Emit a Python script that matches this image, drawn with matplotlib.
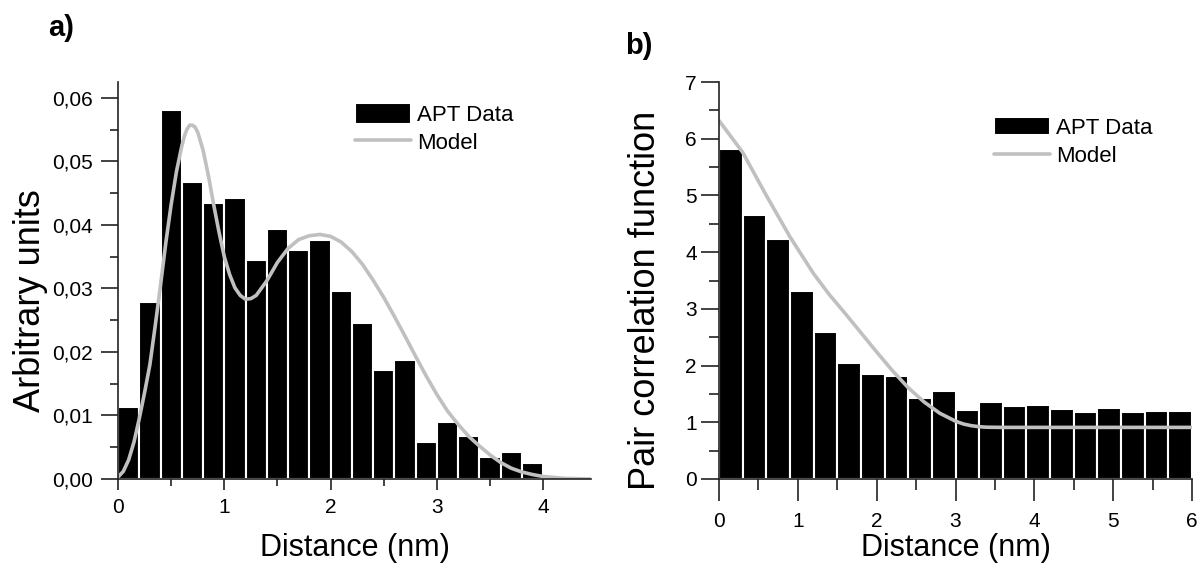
import matplotlib
matplotlib.use('Agg')
import matplotlib.pyplot as plt
from matplotlib.ticker import MultipleLocator, FuncFormatter

plt.rcParams['font.family'] = ['Liberation Sans', 'DejaVu Sans']

# ---- panel a) data
a_bins = [0.0, 0.2, 0.4, 0.6, 0.8, 1.0, 1.2, 1.4, 1.6, 1.8,
          2.0, 2.2, 2.4, 2.6, 2.8, 3.0, 3.2, 3.4, 3.6, 3.8]
a_counts = [0.0114, 0.0279, 0.0581, 0.0467, 0.0435, 0.0443, 0.0344, 0.0393, 0.0361, 0.0377,
            0.0296, 0.0245, 0.0172, 0.0187, 0.0058, 0.0089, 0.0067, 0.0034, 0.0042, 0.0025]
a_model_x = [0.0, 0.05, 0.1, 0.15, 0.2, 0.25, 0.3, 0.35, 0.4, 0.45, 0.5, 0.55, 0.6, 0.625,
             0.65, 0.675, 0.7, 0.725, 0.75, 0.8, 0.85, 0.9, 0.95, 1.0, 1.05, 1.1, 1.15,
             1.2, 1.25, 1.3, 1.4, 1.5, 1.6, 1.7, 1.8, 1.9, 2.0, 2.1, 2.2, 2.3, 2.4,
             2.5, 2.6, 2.7, 2.8, 2.9, 3.0, 3.1, 3.2, 3.3, 3.4, 3.5, 3.6, 3.7, 3.8,
             3.9, 4.0, 4.2, 4.45]
a_model_y = [0.0003, 0.0012, 0.003, 0.0058, 0.0095, 0.0136, 0.018, 0.0241, 0.0305, 0.0372,
             0.0432, 0.0484, 0.0524, 0.0540, 0.0551, 0.0557, 0.0557, 0.0554, 0.0546, 0.0518,
             0.0478, 0.0432, 0.0389, 0.0350, 0.0322, 0.0301, 0.0289, 0.0283, 0.0284, 0.0289,
             0.0312, 0.0341, 0.0363, 0.0377, 0.0383, 0.0385, 0.0382, 0.0373, 0.0358, 0.0338,
             0.0313, 0.0286, 0.0256, 0.0225, 0.0193, 0.0162, 0.0133, 0.0107, 0.0086, 0.0067,
             0.0052, 0.0038, 0.0026, 0.0017, 0.0011, 0.0007, 0.0004, 0.0001, 0.0]

# ---- panel b) data
b_bins = [0.0, 0.3, 0.6, 0.9, 1.2, 1.5, 1.8, 2.1, 2.4, 2.7,
          3.0, 3.3, 3.6, 3.9, 4.2, 4.5, 4.8, 5.1, 5.4, 5.7]
b_counts = [5.81, 4.66, 4.24, 3.31, 2.59, 2.05, 1.85, 1.81, 1.43, 1.56,
            1.21, 1.36, 1.29, 1.31, 1.23, 1.19, 1.26, 1.19, 1.2, 1.2]
b_model_x = [0.0, 0.3, 0.6, 0.9, 1.2, 1.4, 1.6, 1.8, 2.0, 2.2, 2.4, 2.6, 2.8,
             3.0, 3.1, 3.2, 3.3, 3.4, 3.6, 6.0]
b_model_y = [6.32, 5.76, 5.0, 4.27, 3.62, 3.25, 2.92, 2.58, 2.24, 1.91, 1.61, 1.36, 1.16,
             1.02, 0.97, 0.94, 0.922, 0.913, 0.91, 0.91]

gray = '#c0c0c0'
W, H = 1204, 564

fig = plt.figure(figsize=(12.04, 5.64), dpi=100)
ax1 = fig.add_axes([118 / W, (H - 479) / H, 473 / W, 397 / H])
ax2 = fig.add_axes([719 / W, (H - 479) / H, 473 / W, 397 / H])


def style(ax):
    for s in ['top', 'right']:
        ax.spines[s].set_visible(False)
    for s in ['left', 'bottom']:
        ax.spines[s].set_linewidth(1.2)
        ax.spines[s].set_color('#222222')
    ax.tick_params(which='both', direction='out', color='#222222', width=1.2, labelsize=15)


# panel a
bars1 = ax1.bar(a_bins, a_counts, width=0.2, align='edge', color='black',
                edgecolor='white', linewidth=1.5)
line1, = ax1.plot(a_model_x, a_model_y, color=gray, lw=2.6,
                  solid_joinstyle='round', solid_capstyle='round')
ax1.set_xlim(0, 4.45)
ax1.set_ylim(0, 0.0625)
ax1.xaxis.set_major_locator(MultipleLocator(1))
ax1.xaxis.set_minor_locator(MultipleLocator(0.5))
ax1.yaxis.set_major_locator(MultipleLocator(0.01))
ax1.yaxis.set_minor_locator(MultipleLocator(0.005))
ax1.yaxis.set_major_formatter(FuncFormatter(lambda v, p: f'{v:.2f}'.replace('.', ',')))
style(ax1)
ax1.tick_params(axis='y', which='major', length=12, pad=6)
ax1.tick_params(axis='y', which='minor', length=6)
ax1.tick_params(axis='x', which='major', length=8, pad=6)
ax1.tick_params(axis='x', which='minor', length=5)
ax1.set_xlabel('Distance (nm)', fontsize=22)
ax1.set_ylabel('Arbitrary units', fontsize=26)
ax1.yaxis.set_label_coords((48 - 118) / 473, 0.45)
ax1.xaxis.set_label_coords(0.5, -(533 - 479) / 397)
ax1.legend([bars1, line1], ['APT Data', 'Model'], loc='upper left',
           bbox_to_anchor=(355 / W, (H - 103) / H),
           bbox_transform=fig.transFigure, frameon=False, fontsize=16,
           borderpad=0, borderaxespad=0, handlelength=2.5, handleheight=1.1,
           handletextpad=0.3, labelspacing=0.2)

# panel b
bars2 = ax2.bar(b_bins, b_counts, width=0.3, align='edge', color='black',
                edgecolor='white', linewidth=1.5)
line2, = ax2.plot(b_model_x, b_model_y, color=gray, lw=2.6,
                  solid_joinstyle='round', solid_capstyle='round')
ax2.set_xlim(0, 6)
ax2.set_ylim(0, 7)
ax2.xaxis.set_major_locator(MultipleLocator(1))
ax2.xaxis.set_minor_locator(MultipleLocator(0.5))
ax2.yaxis.set_major_locator(MultipleLocator(1))
ax2.yaxis.set_minor_locator(MultipleLocator(0.5))
style(ax2)
ax2.tick_params(axis='y', which='major', length=13, pad=3)
ax2.tick_params(axis='y', which='minor', length=7)
ax2.tick_params(axis='x', which='major', length=16, pad=8)
ax2.tick_params(axis='x', which='minor', length=8)
ax2.set_xlabel('Distance (nm)', fontsize=22)
ax2.set_ylabel('Pair correlation function', fontsize=26)
ax2.yaxis.set_label_coords((663 - 719) / 473, 0.45)
ax2.xaxis.set_label_coords(0.5, -(533 - 479) / 397)
ax2.legend([bars2, line2], ['APT Data', 'Model'], loc='upper left',
           bbox_to_anchor=(994 / W, (H - 117) / H),
           bbox_transform=fig.transFigure, frameon=False, fontsize=16,
           borderpad=0, borderaxespad=0, handlelength=2.5, handleheight=0.9,
           handletextpad=0.3, labelspacing=0.3)

fig.text(48 / W, (H - 28) / H, 'a)', fontsize=21, fontweight='bold', va='center', ha='left')
fig.text(625 / W, (H - 46) / H, 'b)', fontsize=21, fontweight='bold', va='center', ha='left')

fig.savefig('out.png', dpi=100)
